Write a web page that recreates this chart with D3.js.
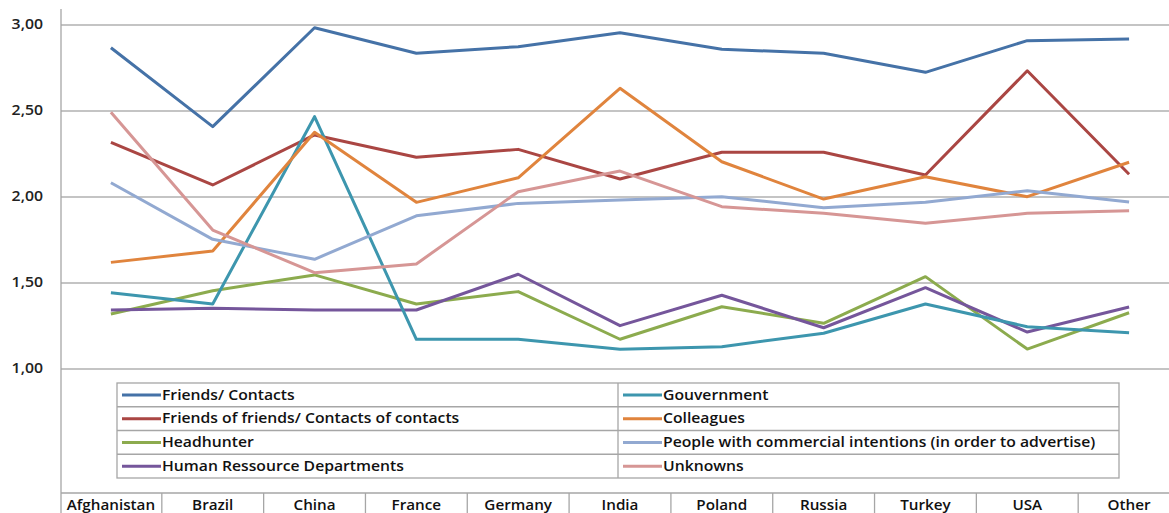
<!DOCTYPE html>
<meta charset="utf-8">
<style>
body { margin: 0; background: #fff; }
svg { display: block; font-family: "Open Sans", "DejaVu Sans", sans-serif; }
.grid line { stroke: #b0b0b0; stroke-width: 1.3px; }
.grid path { display: none; }
.ylab text { font-size: 14px; fill: #222; font-weight: 600; }
.series path { fill: none; stroke-width: 3px; stroke-linejoin: round; }
.legend text, .cats text { font-size: 13.5px; fill: #111; font-weight: 600; }
.frame { stroke: #a6a6a6; stroke-width: 1.3px; fill: none; }
</style>
<svg width="1169" height="513"></svg>
<script src="https://d3js.org/d3.v7.min.js"></script>
<script>

var categories = ["Afghanistan", "Brazil", "China", "France", "Germany", "India", "Poland", "Russia", "Turkey", "USA", "Other"];

var friendsContacts = [2.865, 2.406, 2.981, 2.833, 2.871, 2.952, 2.856, 2.833, 2.722, 2.906, 2.916];
var friendsOfFriends = [2.315, 2.067, 2.358, 2.228, 2.274, 2.102, 2.257, 2.257, 2.125, 2.731, 2.129];
var headhunter = [1.317, 1.452, 1.544, 1.375, 1.447, 1.170, 1.359, 1.263, 1.534, 1.113, 1.324];
var humanResources = [1.340, 1.350, 1.340, 1.340, 1.548, 1.249, 1.426, 1.237, 1.470, 1.212, 1.358];
var gouvernment = [1.441, 1.375, 2.464, 1.170, 1.170, 1.112, 1.127, 1.205, 1.375, 1.243, 1.208];
var colleagues = [1.617, 1.683, 2.373, 1.966, 2.109, 2.629, 2.202, 1.985, 2.115, 1.999, 2.199];
var commercial = [2.080, 1.751, 1.635, 1.888, 1.960, 1.980, 1.999, 1.935, 1.966, 2.034, 1.968];
var unknowns = [2.490, 1.805, 1.557, 1.608, 2.028, 2.148, 1.941, 1.902, 1.844, 1.902, 1.917];

var yTicks = [1, 1.5, 2, 2.5, 3];

// legend order: left column then right column
var series = [
  {name: "Friends/ Contacts", values: friendsContacts, color: "#4572a7"},
  {name: "Friends of friends/ Contacts of contacts", values: friendsOfFriends, color: "#aa4643"},
  {name: "Headhunter", values: headhunter, color: "#8cab4e"},
  {name: "Human Ressource Departments", values: humanResources, color: "#75569b"},
  {name: "Gouvernment", values: gouvernment, color: "#3d96ae"},
  {name: "Colleagues", values: colleagues, color: "#e0843d"},
  {name: "People with commercial intentions (in order to advertise)", values: commercial, color: "#92a9d1"},
  {name: "Unknowns", values: unknowns, color: "#d69695"}
];

var svg = d3.select("svg"),
    width = +svg.attr("width"),
    height = +svg.attr("height");

var left = 61, axisY = 493;

// the original text is drawn a bit wide
function place(x0, y0, s) {
  return "translate(" + x0 + "," + y0 + ") scale(" + (s || 1.13) + ",1)";
}

var x = d3.scaleBand()
    .domain(categories)
    .range([60, 1180]);

var y = d3.scaleLinear()
    .domain([1, 3])
    .range([368.5, 24.5]);

var comma = d3.formatLocale({decimal: ",", thousands: ".", grouping: [3], currency: ["", ""]}).format(".2f");

// gridlines
svg.append("g")
    .attr("class", "grid")
    .attr("transform", "translate(" + left + ",0)")
    .call(d3.axisLeft(y).tickValues(yTicks).tickSize(-(width - left)).tickFormat(""));

svg.append("g")
    .attr("class", "ylab")
  .selectAll("text")
  .data(yTicks)
  .enter().append("text")
    .attr("transform", function(d) { return place(43, y(d)); })
    .attr("dy", "0.35em")
    .attr("text-anchor", "end")
    .text(function(d) { return comma(d); });

// axis lines
svg.append("line").attr("class", "frame")
    .attr("x1", left).attr("x2", left).attr("y1", 9).attr("y2", height);
svg.append("line").attr("class", "frame")
    .attr("x1", left).attr("x2", width).attr("y1", axisY).attr("y2", axisY);

// category table
var cats = svg.append("g").attr("class", "cats");
cats.selectAll("line")
  .data(categories.slice(1))
  .enter().append("line")
    .attr("class", "frame")
    .attr("x1", function(d) { return x(d); })
    .attr("x2", function(d) { return x(d); })
    .attr("y1", axisY)
    .attr("y2", height);
cats.selectAll("text")
  .data(categories)
  .enter().append("text")
    .attr("transform", function(d) { return place(x(d) + x.bandwidth() / 2, 510); })
    .attr("text-anchor", "middle")
    .text(function(d) { return d; });

// lines
var line = d3.line()
    .x(function(d, i) { return x(categories[i]) + x.bandwidth() / 2; })
    .y(function(d) { return y(d); });

svg.append("g")
    .attr("class", "series")
  .selectAll("path")
  .data(series)
  .enter().append("path")
    .attr("stroke", function(d) { return d.color; })
    .attr("d", function(d) { return line(d.values); });

// legend table
var lgLeft = 117, lgMid = 618, lgRight = 1119, lgTop = 383, rowH = 23.75;
var legend = svg.append("g").attr("class", "legend");

legend.append("rect").attr("class", "frame")
    .attr("x", lgLeft).attr("y", lgTop)
    .attr("width", lgRight - lgLeft).attr("height", rowH * 4);
legend.append("line").attr("class", "frame")
    .attr("x1", lgMid).attr("x2", lgMid).attr("y1", lgTop).attr("y2", lgTop + rowH * 4);
legend.selectAll("line.row")
  .data([1, 2, 3])
  .enter().append("line")
    .attr("class", "frame row")
    .attr("x1", lgLeft).attr("x2", lgRight)
    .attr("y1", function(d) { return lgTop + d * rowH; })
    .attr("y2", function(d) { return lgTop + d * rowH; });

var item = legend.selectAll("g.item")
  .data(series)
  .enter().append("g")
    .attr("class", "item")
    .attr("transform", function(d, i) {
      var cx = i < 4 ? lgLeft : lgMid;
      return "translate(" + cx + "," + (lgTop + (i % 4) * rowH) + ")";
    });

item.append("line")
    .attr("x1", 5).attr("x2", 44)
    .attr("y1", rowH / 2).attr("y2", rowH / 2)
    .attr("stroke", function(d) { return d.color; })
    .attr("stroke-width", 3);

item.append("text")
    .attr("transform", place(45, rowH / 2, 1.165))
    .attr("dy", "0.36em")
    .text(function(d) { return d.name; });

</script>
